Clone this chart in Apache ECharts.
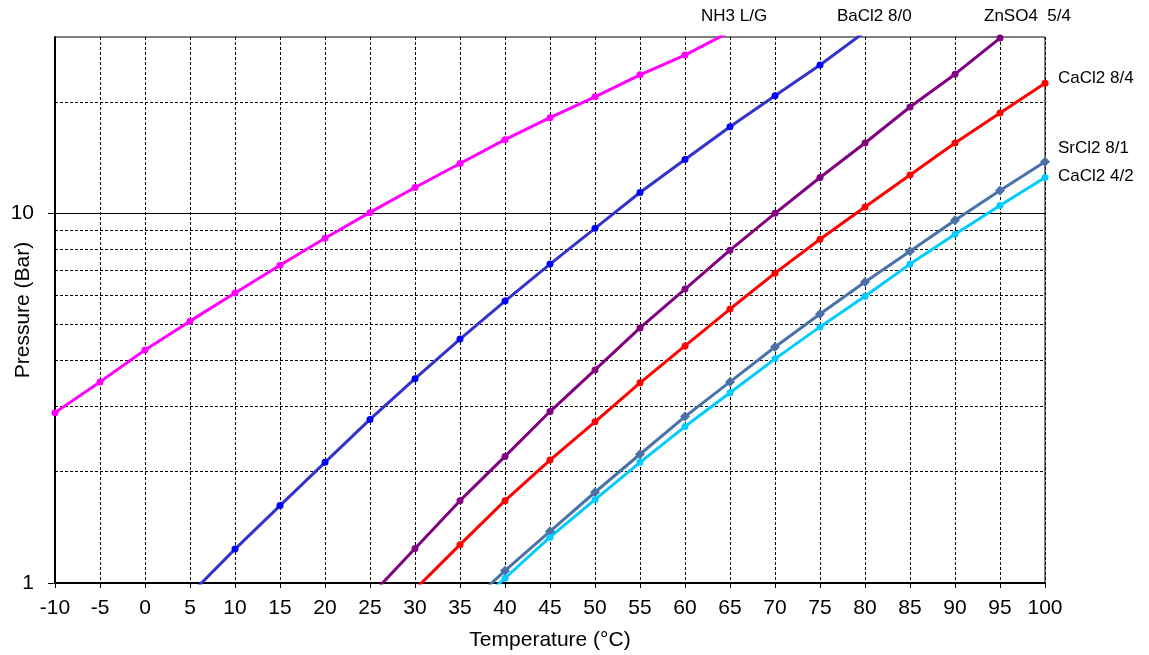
<!DOCTYPE html>
<html>
<head>
<meta charset="utf-8">
<script src="https://cdn.jsdelivr.net/npm/echarts@6/dist/echarts.min.js"></script>
<style>
  html, body { margin: 0; padding: 0; background: #fff; }
  #chart { width: 1149px; height: 655px; }
</style>
</head>
<body>
<div id="chart"></div>
<script>
// Pressure (bar) vs temperature (°C), one array per curve, 5 °C steps
var nh3Temps = [-10, -5, 0, 5, 10, 15, 20, 25, 30, 35, 40, 45, 50, 55, 60, 65];
var nh3 = [2.89, 3.50, 4.27, 5.11, 6.09, 7.24, 8.56, 10.06, 11.75, 13.64, 15.83, 18.15, 20.67, 23.7, 26.8, 31];

var bacl2Temps = [5, 10, 15, 20, 25, 30, 35, 40, 45, 50, 55, 60, 65, 70, 75, 80];
var bacl2 = [0.93, 1.235, 1.62, 2.12, 2.77, 3.57, 4.57, 5.79, 7.29, 9.11, 11.39, 13.98, 17.16, 20.8, 25.2, 31];

var znso4Temps = [25, 30, 35, 40, 45, 50, 55, 60, 65, 70, 75, 80, 85, 90, 95];
var znso4 = [0.92, 1.24, 1.67, 2.20, 2.91, 3.77, 4.90, 6.24, 7.95, 10.0, 12.5, 15.5, 19.4, 23.8, 29.8];

var cacl284Temps = [30, 35, 40, 45, 50, 55, 60, 65, 70, 75, 80, 85, 90, 95, 100];
var cacl284 = [0.96, 1.27, 1.67, 2.15, 2.73, 3.48, 4.38, 5.51, 6.89, 8.51, 10.4, 12.7, 15.5, 18.7, 22.5];

var srcl2Temps = [35, 40, 45, 50, 55, 60, 65, 70, 75, 80, 85, 90, 95, 100];
var srcl2 = [0.83, 1.08, 1.38, 1.76, 2.23, 2.82, 3.50, 4.35, 5.34, 6.52, 7.90, 9.58, 11.53, 13.8];

var cacl242Temps = [35, 40, 45, 50, 55, 60, 65, 70, 75, 80, 85, 90, 95, 100];
var cacl242 = [0.80, 1.03, 1.33, 1.68, 2.12, 2.65, 3.27, 4.04, 4.93, 5.97, 7.29, 8.78, 10.5, 12.5];

// labelled decades and minor horizontal grid lines of the log axis
var yTicks = [1, 10];
var minorGrid = [2, 3, 4, 5, 6, 7, 8, 9, 20];

function pairs(ts, vs) {
    return ts.map(function(t, i) { return [t, vs[i]]; });
}

function curve(name, ts, vs, lineColor, dotColor, symbol, size) {
    return {
        name: name,
        type: 'line',
        data: pairs(ts, vs),
        symbol: symbol || 'circle',
        symbolSize: size || 7,
        clip: true,
        lineStyle: { color: lineColor, width: 3 },
        itemStyle: { color: dotColor || lineColor },
        z: 5
    };
}

var chartDom = document.getElementById('chart');
var myChart = echarts.init(chartDom);
var font = 'Liberation Sans, Arial, sans-serif';

var option = {
    animation: false,
    grid: {
        left: 55, right: 104, top: 37, bottom: 72,
        containLabel: false,
        outerBoundsMode: 'none',
        show: true, borderColor: '#000', borderWidth: 1
    },
    xAxis: {
        type: 'value',
        min: -10, max: 100, interval: 5,
        name: 'Temperature (°C)',
        nameLocation: 'middle',
        nameGap: 47,
        nameMoveOverlap: false,
        nameTextStyle: { fontFamily: font, fontSize: 21, color: '#000' },
        axisLine: { onZero: false, lineStyle: { color: '#000', width: 2 } },
        axisTick: { length: 5, lineStyle: { color: '#000' } },
        axisLabel: { fontFamily: font, fontSize: 21, color: '#000', margin: 15 },
        splitLine: { show: true, lineStyle: { color: '#000', type: [3, 2], width: 1 } }
    },
    yAxis: {
        type: 'log',
        logBase: 10,
        min: 1, max: 30,
        name: 'Pressure (Bar)',
        nameLocation: 'middle',
        nameGap: 21,
        nameMoveOverlap: false,
        nameTextStyle: { fontFamily: font, fontSize: 21, color: '#000' },
        axisLine: { onZero: false, lineStyle: { color: '#000', width: 2 } },
        axisTick: { length: 7, customValues: yTicks, lineStyle: { color: '#000' } },
        axisLabel: {
            fontFamily: font, fontSize: 21, color: '#000', margin: 21,
            customValues: yTicks
        },
        splitLine: { show: true, lineStyle: { color: '#000', width: 1 } }
    },
    series: [
        {
            type: 'line',
            data: [],
            silent: true,
            markLine: {
                silent: true,
                symbol: 'none',
                label: { show: false },
                lineStyle: { color: '#000', type: [3, 2], width: 1 },
                data: minorGrid.map(function(v) { return { yAxis: v }; })
            }
        },
        curve('NH3 L/G', nh3Temps, nh3, '#FF00FF'),
        curve('BaCl2 8/0', bacl2Temps, bacl2, '#3333CC', '#0000FF'),
        curve('ZnSO4 5/4', znso4Temps, znso4, '#800080'),
        curve('CaCl2 8/4', cacl284Temps, cacl284, '#FF0000'),
        curve('SrCl2 8/1', srcl2Temps, srcl2, '#4A72A8', '#4A72A8', 'diamond', 10),
        curve('CaCl2 4/2', cacl242Temps, cacl242, '#00CCFF')
    ],
    graphic: [
        { type: 'text', left: 701, top: 8, style: { text: 'NH3 L/G', font: '17px ' + font, fill: '#000' } },
        { type: 'text', left: 837, top: 8, style: { text: 'BaCl2 8/0', font: '17px ' + font, fill: '#000' } },
        { type: 'text', left: 984, top: 8, style: { text: 'ZnSO4  5/4', font: '17px ' + font, fill: '#000' } },
        { type: 'text', left: 1058, top: 70, style: { text: 'CaCl2 8/4', font: '17px ' + font, fill: '#000' } },
        { type: 'text', left: 1058, top: 140, style: { text: 'SrCl2 8/1', font: '17px ' + font, fill: '#000' } },
        { type: 'text', left: 1058, top: 168, style: { text: 'CaCl2 4/2', font: '17px ' + font, fill: '#000' } }
    ]
};

option && myChart.setOption(option);

window.addEventListener('resize', function() {
    myChart.resize();
});
</script>
</body>
</html>
